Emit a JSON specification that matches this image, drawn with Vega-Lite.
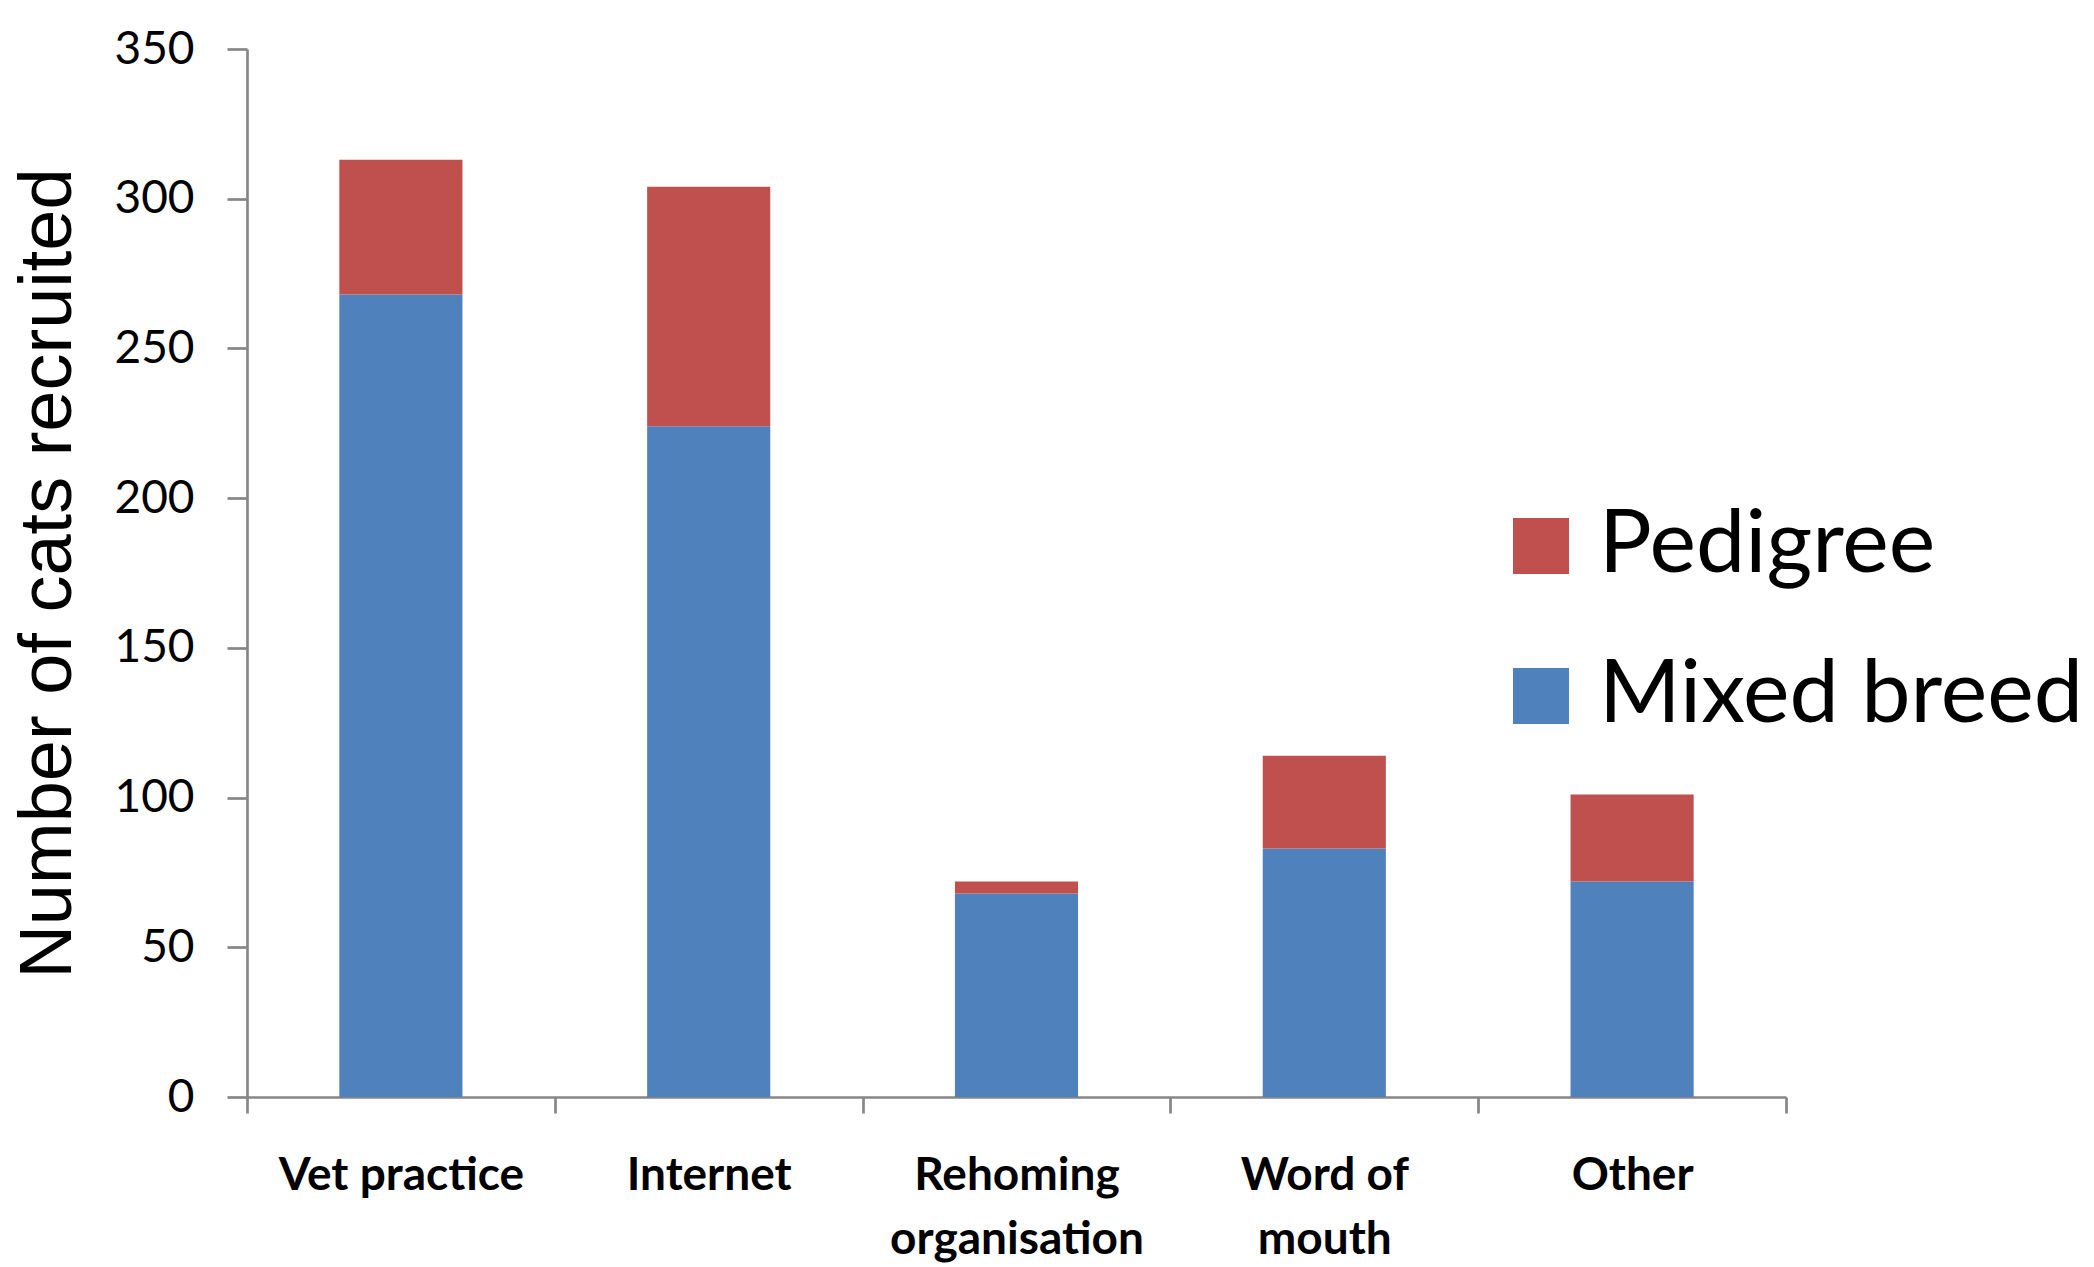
{
  "$schema": "https://vega.github.io/schema/vega-lite/v6.json",
  "width": 1539,
  "height": 1048,
  "autosize": "none",
  "padding": {"left": 247, "top": 49, "right": 308, "bottom": 170},
  "background": "white",
  "config": {"view": {"stroke": null}},
  "data": {
    "values": [
      {"source": "Vet practice", "type": "Mixed breed", "count": 268},
      {"source": "Vet practice", "type": "Pedigree", "count": 45},
      {"source": "Internet", "type": "Mixed breed", "count": 224},
      {"source": "Internet", "type": "Pedigree", "count": 80},
      {"source": "Rehoming organisation", "type": "Mixed breed", "count": 68},
      {"source": "Rehoming organisation", "type": "Pedigree", "count": 4},
      {"source": "Word of mouth", "type": "Mixed breed", "count": 83},
      {"source": "Word of mouth", "type": "Pedigree", "count": 31},
      {"source": "Other", "type": "Mixed breed", "count": 72},
      {"source": "Other", "type": "Pedigree", "count": 29}
    ]
  },
  "mark": {"type": "bar", "width": {"band": 0.4}},
  "encoding": {
    "x": {
      "field": "source",
      "type": "nominal",
      "sort": ["Vet practice", "Internet", "Rehoming organisation", "Word of mouth", "Other"],
      "scale": {"paddingInner": 0, "paddingOuter": 0},
      "axis": {
        "title": null,
        "labelAngle": 0,
        "labelFont": "Lato",
        "labelFontWeight": "bold",
        "labelFontSize": 46,
        "labelColor": "black",
        "labelLineHeight": 64,
        "labelPadding": 40,
        "labelBaseline": "top",
        "labelLimit": 0,
        "labelExpr": "datum.label == 'Rehoming organisation' ? ['Rehoming', 'organisation'] : datum.label == 'Word of mouth' ? ['Word of', 'mouth'] : datum.label",
        "tickBand": "extent",
        "tickSize": 16,
        "tickWidth": 2.7,
        "tickColor": "#868686",
        "domainColor": "#868686",
        "domainWidth": 2.7
      }
    },
    "y": {
      "field": "count",
      "type": "quantitative",
      "stack": "zero",
      "scale": {"domain": [0, 350], "nice": false},
      "axis": {
        "title": "Number of cats recruited",
        "titleFont": "Liberation Sans",
        "titleFontWeight": "normal",
        "titleFontSize": 74,
        "titleColor": "black",
        "titlePadding": 27,
        "values": [0, 50, 100, 150, 200, 250, 300, 350],
        "grid": false,
        "labelFont": "Lato",
        "labelFontSize": 46,
        "labelColor": "black",
        "labelPadding": 33,
        "tickSize": 20,
        "tickWidth": 2.7,
        "tickColor": "#868686",
        "domainColor": "#868686",
        "domainWidth": 2.7
      }
    },
    "color": {
      "field": "type",
      "type": "nominal",
      "scale": {"domain": ["Pedigree", "Mixed breed"], "range": ["#C0504D", "#4F81BD"]},
      "legend": {
        "title": null,
        "orient": "none",
        "legendX": 1250,
        "legendY": 453,
        "symbolType": "square",
        "symbolSize": 3136,
        "symbolStrokeWidth": 0,
        "symbolOpacity": 1,
        "labelFont": "Lato",
        "labelFontSize": 88,
        "labelColor": "black",
        "labelOffset": 14,
        "labelLimit": 0,
        "rowPadding": 62
      }
    },
    "order": {"field": "type", "sort": "ascending"}
  }
}
